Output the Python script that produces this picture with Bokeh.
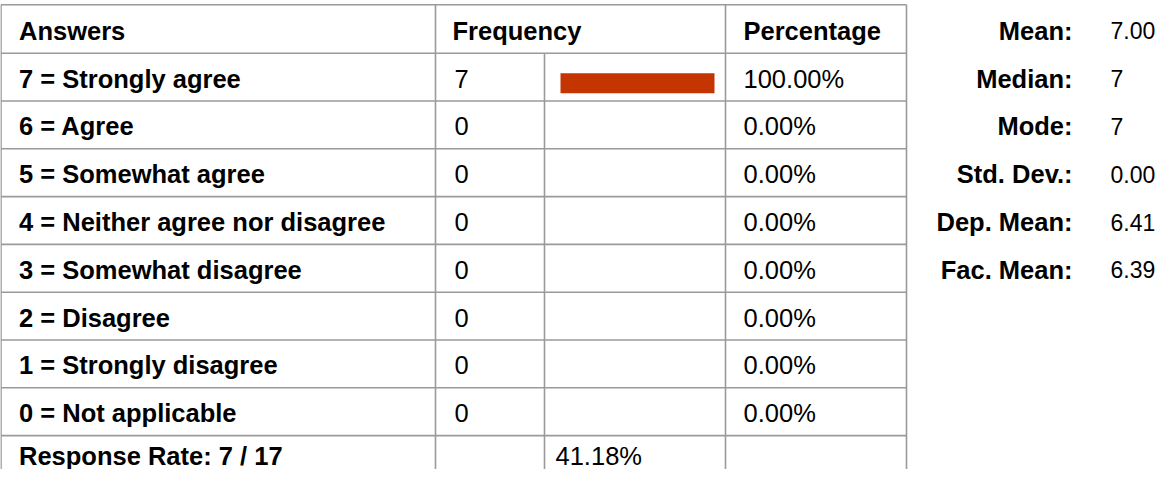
from bokeh.plotting import figure
from bokeh.models import Range1d, ColumnDataSource
from bokeh.core.properties import value
from bokeh.embed import file_html
from bokeh.resources import INLINE

# ---- data ----
answers = ["7 = Strongly agree", "6 = Agree", "5 = Somewhat agree",
           "4 = Neither agree nor disagree", "3 = Somewhat disagree",
           "2 = Disagree", "1 = Strongly disagree", "0 = Not applicable"]
frequency = [7, 0, 0, 0, 0, 0, 0, 0]
percentage = [100.0, 0.0, 0.0, 0.0, 0.0, 0.0, 0.0, 0.0]
headers = ["Answers", "Frequency", "Percentage"]
responded = 7
invited = 17
response_rate = 41.18
stat_labels = ["Mean:", "Median:", "Mode:", "Std. Dev.:", "Dep. Mean:", "Fac. Mean:"]
stat_values = ["7.00", "7", "7", "0.00", "6.41", "6.39"]

# ---- layout (pixels) ----
W, H = 1160, 469
FONT = value("Liberation Sans")
FS = "25.5px"
FS_STAT = "25.5px"
FS_VAL = "23px"
col_x = [0.5, 435, 544, 725, 906]
top = 4.3
header_h = 48.4
row_h = 47.8
n_rows = len(answers) + 1  # + response row
row_tops = [top] + [top + header_h + i * row_h for i in range(n_rows + 1)]
TY = 1.5

p = figure(width=W, height=H, output_backend="svg", toolbar_location=None,
           x_range=Range1d(0, W), y_range=Range1d(H, 0), min_border=0)
p.axis.visible = False
p.grid.visible = False
p.outline_line_color = None
p.background_fill_color = "white"
p.border_fill_color = "white"

line_col = "#9a9a9a"
hy = [y for y in row_tops if y <= H]
p.segment(x0=[col_x[0]] * len(hy), x1=[col_x[-1]] * len(hy), y0=hy, y1=hy,
          line_color=line_col, line_width=1.6)
body_top = row_tops[1]
p.segment(x0=[col_x[0], col_x[1], col_x[3], col_x[4], col_x[2]],
          x1=[col_x[0], col_x[1], col_x[3], col_x[4], col_x[2]],
          y0=[top, top, top, top, body_top], y1=[H] * 5,
          line_color=line_col, line_width=1.6)

def mid(i):
    return (row_tops[i] + row_tops[i + 1]) / 2 + TY

# header
p.text(x=[col_x[0] + 18, col_x[1] + 17, col_x[3] + 18], y=[mid(0)] * 3, text=headers,
       text_font=FONT, text_font_size=FS, text_font_style="bold",
       text_baseline="middle", text_color="black")

rows_y = [mid(i + 1) for i in range(len(answers))]
p.text(x=[col_x[0] + 18] * len(answers), y=rows_y, text=answers,
       text_font=FONT, text_font_size=FS, text_font_style="bold",
       text_baseline="middle", text_color="black")
p.text(x=[col_x[1] + 19] * len(answers), y=rows_y, text=[str(f) for f in frequency],
       text_font=FONT, text_font_size=FS, text_baseline="middle", text_color="black")
p.text(x=[col_x[3] + 18] * len(answers), y=rows_y, text=["%.2f%%" % v for v in percentage],
       text_font=FONT, text_font_size=FS, text_baseline="middle", text_color="black")

# bars
bar_max = 154
bar_src = ColumnDataSource(dict(
    left=[col_x[2] + 16] * len(answers),
    right=[col_x[2] + 16 + v / 100.0 * bar_max for v in percentage],
    top=[row_tops[i + 1] + 20 for i in range(len(answers))],
    bottom=[row_tops[i + 1] + 40 for i in range(len(answers))],
    pct=percentage))
p.quad(left="left", right="right", top="top", bottom="bottom", source=bar_src,
       fill_color="#C43502", line_color=None)

# response row (last row runs off the bottom edge; keep its text inside)
ry = min(mid(len(answers) + 1), H - 14)
p.text(x=[col_x[0] + 18], y=[ry], text=["Response Rate: %d / %d" % (responded, invited)],
       text_font=FONT, text_font_size=FS, text_font_style="bold",
       text_baseline="middle", text_color="black")
p.text(x=[col_x[2] + 11], y=[ry], text=["%.2f%%" % response_rate],
       text_font=FONT, text_font_size=FS, text_baseline="middle", text_color="black")

# stats
sy = [mid(i) for i in range(len(stat_labels))]
p.text(x=[1072] * len(stat_labels), y=sy, text=stat_labels, text_align="right",
       text_font=FONT, text_font_size=FS_STAT, text_font_style="bold",
       text_baseline="middle", text_color="black")
p.text(x=[1110] * len(stat_values), y=sy, text=stat_values,
       text_font=FONT, text_font_size=FS_VAL, text_baseline="middle", text_color="black")

open("out.html", "w").write(file_html(p, INLINE))
